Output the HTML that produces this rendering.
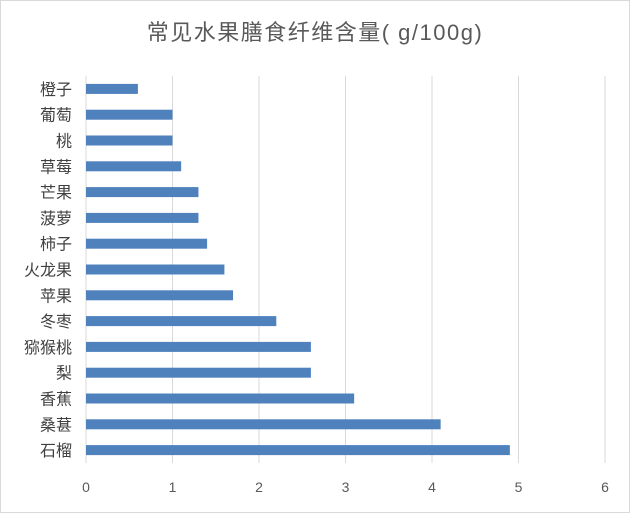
<!DOCTYPE html>
<html><head><meta charset="utf-8"><style>
body{margin:0;background:#fff;}
svg text{font-family:"Liberation Sans","Noto Sans CJK SC",sans-serif;}
</style></head><body>
<svg width="630" height="514" xmlns="http://www.w3.org/2000/svg">
<rect x="0.5" y="0.5" width="629" height="512" fill="#fff" stroke="#d9d9d9"/>
<text x="315" y="40" text-anchor="middle" font-size="22" letter-spacing="1.5" fill="#595959">常见水果膳食纤维含量( g/100g)</text>
<g stroke="#d9d9d9" stroke-width="1">
<line x1="86" y1="76" x2="86" y2="463"/>
<line x1="172.5" y1="76" x2="172.5" y2="463"/>
<line x1="259" y1="76" x2="259" y2="463"/>
<line x1="345.5" y1="76" x2="345.5" y2="463"/>
<line x1="432" y1="76" x2="432" y2="463"/>
<line x1="518.5" y1="76" x2="518.5" y2="463"/>
<line x1="605" y1="76" x2="605" y2="463"/>
</g>
<g font-size="14" fill="#595959" text-anchor="middle">
<text x="86" y="492">0</text><text x="172.5" y="492">1</text><text x="259" y="492">2</text><text x="345.5" y="492">3</text><text x="432" y="492">4</text><text x="518.5" y="492">5</text><text x="605" y="492">6</text>
</g>
<g fill="#4f81bd" id="bars"></g>
<g font-size="16" fill="#404040" text-anchor="end" id="labels"></g>
<script>
var d=[["橙子",.6],["葡萄",1],["桃",1],["草莓",1.1],["芒果",1.3],["菠萝",1.3],["柿子",1.4],["火龙果",1.6],["苹果",1.7],["冬枣",2.2],["猕猴桃",2.6],["梨",2.6],["香蕉",3.1],["桑葚",4.1],["石榴",4.9]];
var ns="http://www.w3.org/2000/svg",b=document.getElementById("bars"),l=document.getElementById("labels");
d.forEach(function(e,i){var c=76+25.8*(i+0.5);
var r=document.createElementNS(ns,"rect");r.setAttribute("x",86);r.setAttribute("y",c-5);r.setAttribute("width",e[1]*86.5);r.setAttribute("height",10);b.appendChild(r);
var t=document.createElementNS(ns,"text");t.setAttribute("x",72);t.setAttribute("y",c+6);t.textContent=e[0];l.appendChild(t);});
</script>
</svg>
</body></html>
